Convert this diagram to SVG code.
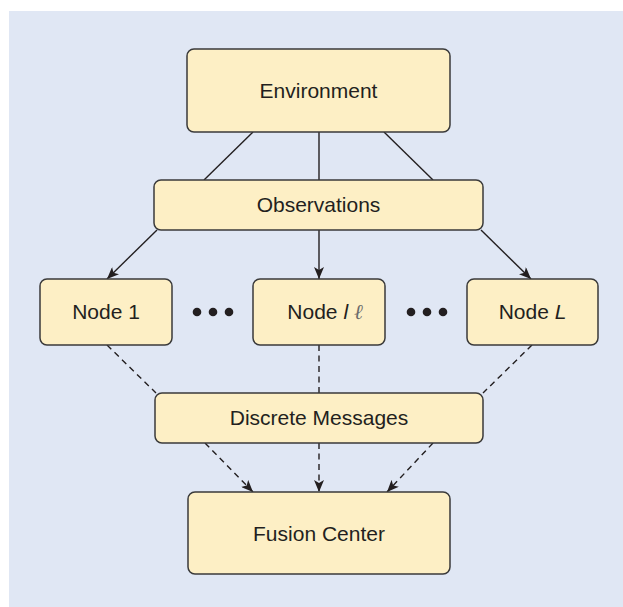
<svg xmlns="http://www.w3.org/2000/svg" width="623" height="607" viewBox="0 0 623 607">
<defs>
<style>
.box{fill:#FDEFC5;stroke:#3a3a3a;stroke-width:1.5}
.lbl{font-family:"Liberation Sans",Arial,sans-serif;font-size:21px;fill:#231f20;text-anchor:middle}
.ln{stroke:#231f20;stroke-width:1.4;fill:none}
.dash{stroke-dasharray:6,4.5}
.dot{fill:#231f20}
</style>
<marker id="ah" viewBox="0 0 12 10" refX="12" refY="5" markerWidth="12" markerHeight="10" markerUnits="userSpaceOnUse" orient="auto">
<path d="M0,0 L12,5 L0,10 L3,5 Z" fill="#231f20"/>
</marker>
</defs>
<rect x="9" y="11" width="614" height="596" fill="#E0E7F4"/>
<g id="connectors">
<line class="ln" x1="253" y1="132" x2="204" y2="180"/>
<line class="ln" x1="319" y1="132" x2="319" y2="180"/>
<line class="ln" x1="384" y1="132" x2="433" y2="180"/>
<line class="ln" x1="157" y1="230" x2="107" y2="279" marker-end="url(#ah)"/>
<line class="ln" x1="319" y1="230" x2="319" y2="279" marker-end="url(#ah)"/>
<line class="ln" x1="481" y1="230" x2="531" y2="279" marker-end="url(#ah)"/>
<line class="ln dash" x1="107" y1="345" x2="156" y2="393"/>
<line class="ln dash" x1="319" y1="345" x2="319" y2="393"/>
<line class="ln dash" x1="532" y1="345" x2="483" y2="393"/>
<line class="ln dash" x1="205" y1="443" x2="253" y2="492" marker-end="url(#ah)"/>
<line class="ln dash" x1="319" y1="443" x2="319" y2="492" marker-end="url(#ah)"/>
<line class="ln dash" x1="433" y1="443" x2="387" y2="492" marker-end="url(#ah)"/>
</g>
<g id="environment">
<rect class="box" x="187" y="49" width="263" height="83" rx="7"/>
<text class="lbl" x="318.5" y="98">Environment</text>
</g>
<g id="observations">
<rect class="box" x="154" y="180" width="329" height="50" rx="7"/>
<text class="lbl" x="318.5" y="212">Observations</text>
</g>
<g id="node1">
<rect class="box" x="40" y="279" width="132" height="66" rx="7"/>
<text class="lbl" x="106" y="319">Node 1</text>
</g>
<g id="nodel">
<rect class="box" x="253" y="279" width="132" height="66" rx="7"/>
<text class="lbl" x="325" y="319">Node <tspan font-style="italic">l</tspan> <tspan font-family="'Liberation Serif','DejaVu Serif',serif" font-style="italic" fill="#6b6b6b">ℓ</tspan></text>
</g>
<g id="nodeL">
<rect class="box" x="467" y="279" width="131" height="66" rx="7"/>
<text class="lbl" x="532.5" y="319">Node <tspan font-style="italic">L</tspan></text>
</g>
<g id="dots1">
<circle class="dot" cx="197" cy="312" r="4.3"/>
<circle class="dot" cx="213" cy="312" r="4.3"/>
<circle class="dot" cx="229" cy="312" r="4.3"/>
</g>
<g id="dots2">
<circle class="dot" cx="411" cy="312" r="4.3"/>
<circle class="dot" cx="427" cy="312" r="4.3"/>
<circle class="dot" cx="443" cy="312" r="4.3"/>
</g>
<g id="discrete">
<rect class="box" x="155" y="393" width="328" height="50" rx="7"/>
<text class="lbl" x="319" y="425">Discrete Messages</text>
</g>
<g id="fusion">
<rect class="box" x="188" y="492" width="262" height="82" rx="7"/>
<text class="lbl" x="319" y="541">Fusion Center</text>
</g>
</svg>
